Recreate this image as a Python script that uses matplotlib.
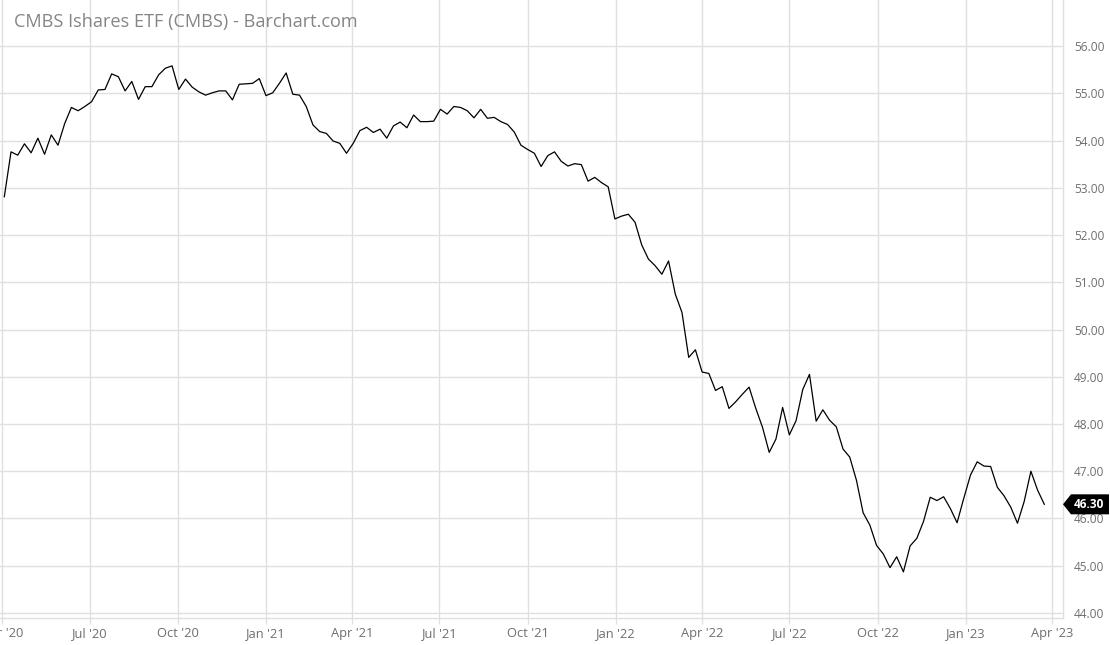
import matplotlib
matplotlib.use('Agg')
import matplotlib.pyplot as plt
import matplotlib.transforms as mtransforms
from matplotlib.patches import Polygon
import pandas as pd

plt.rcParams['font.family'] = ['Open Sans', 'DejaVu Sans']

# ---- data (weekly closes) ----
title = "CMBS Ishares ETF (CMBS) - Barchart.com"
first_week = '2020-04-03'
closes = [
    52.81, 53.76, 53.69, 53.93, 53.74, 54.05, 53.71, 54.12, 53.90, 54.36,
    54.70, 54.63, 54.72, 54.82, 55.07, 55.08, 55.41, 55.35, 55.05, 55.25,
    54.87, 55.14, 55.14, 55.39, 55.53, 55.58, 55.08, 55.30, 55.13, 55.03,
    54.96, 55.01, 55.05, 55.05, 54.86, 55.19, 55.20, 55.21, 55.31, 54.95,
    55.01, 55.21, 55.43, 54.98, 54.96, 54.72, 54.33, 54.19, 54.15, 53.99,
    53.94, 53.73, 53.94, 54.21, 54.28, 54.17, 54.24, 54.05, 54.31, 54.39,
    54.27, 54.54, 54.40, 54.40, 54.41, 54.66, 54.56, 54.72, 54.70, 54.63,
    54.48, 54.66, 54.47, 54.49, 54.40, 54.34, 54.18, 53.90, 53.81, 53.73,
    53.45, 53.68, 53.76, 53.56, 53.46, 53.51, 53.49, 53.14, 53.22, 53.11,
    53.02, 52.34, 52.40, 52.44, 52.27, 51.79, 51.49, 51.35, 51.17, 51.45,
    50.75, 50.36, 49.41, 49.57, 49.10, 49.07, 48.71, 48.79, 48.33, 48.47,
    48.63, 48.78, 48.33, 47.93, 47.40, 47.68, 48.35, 47.77, 48.07, 48.73,
    49.05, 48.06, 48.30, 48.08, 47.94, 47.47, 47.30, 46.81, 46.12, 45.86,
    45.43, 45.25, 44.96, 45.19, 44.87, 45.42, 45.58, 45.94, 46.45, 46.38,
    46.46, 46.21, 45.91, 46.43, 46.92, 47.20, 47.11, 47.10, 46.66, 46.48,
    46.24, 45.90, 46.36, 47.00, 46.60, 46.30,
]
y_ticks = [44, 45, 46, 47, 48, 49, 50, 51, 52, 53, 54, 55, 56]
x_tick_start = '2020-04-01'
x_tick_end = '2023-04-01'
last_price_label = "46.30"

dates = pd.date_range(first_week, periods=len(closes), freq='W-FRI')
tick_dates = pd.date_range(x_tick_start, x_tick_end, freq='QS')
tick_labels = [d.strftime("%b '%y") for d in tick_dates]

# ---- figure ----
W, H = 1110, 645
fig = plt.figure(figsize=(W / 100, H / 100), dpi=100)
ax = fig.add_axes([0, 27 / H, 1063 / W, 618 / H])

ax.plot(dates, closes, color='black', lw=0.9, zorder=3)

ax.set_xlim(pd.Timestamp('2020-03-29 12:00'), pd.Timestamp('2023-04-12 12:00'))
ax.set_ylim(43.894, 56.974)

ax.set_xticks(tick_dates)
ax.set_xticklabels(tick_labels)
ax.set_yticks(y_ticks)
ax.set_yticklabels([f"{v:.2f}" for v in y_ticks])

grid_c = '#e0e0e0'
ax.grid(True, color=grid_c, lw=1.0, zorder=0)
ax.yaxis.tick_right()
ax.tick_params(axis='y', length=0, pad=8, labelcolor='#6e6e6e', labelsize=8.6)
ax.tick_params(axis='x', length=4, color=grid_c, width=1.0, pad=2.5,
               labelcolor='#6e6e6e', labelsize=9.3)

for s in ['top', 'left']:
    ax.spines[s].set_visible(False)
for s in ['bottom', 'right']:
    ax.spines[s].set_color(grid_c)
    ax.spines[s].set_linewidth(1.0)

fig.text(14 / W, 1 - 22 / H, title, ha='left', va='center',
         fontsize=13.1, color='#858585')

# last-price badge
last = closes[-1]
tr = mtransforms.blended_transform_factory(fig.transFigure, ax.transData)
ppu = 618 / (56.974 - 43.894)  # pixels per price unit
hh = 10 / ppu
badge = Polygon([(1063 / W, last), (1071 / W, last + hh), (1109 / W, last + hh),
                 (1109 / W, last - hh), (1071 / W, last - hh)],
                closed=True, transform=tr, facecolor='black', edgecolor='none',
                zorder=10)
fig.add_artist(badge)
fig.text(1089 / W, last, last_price_label, transform=tr, ha='center', va='center',
         fontsize=8.6, color='white', fontweight='bold', zorder=11)

fig.savefig('out.png', dpi=100)
